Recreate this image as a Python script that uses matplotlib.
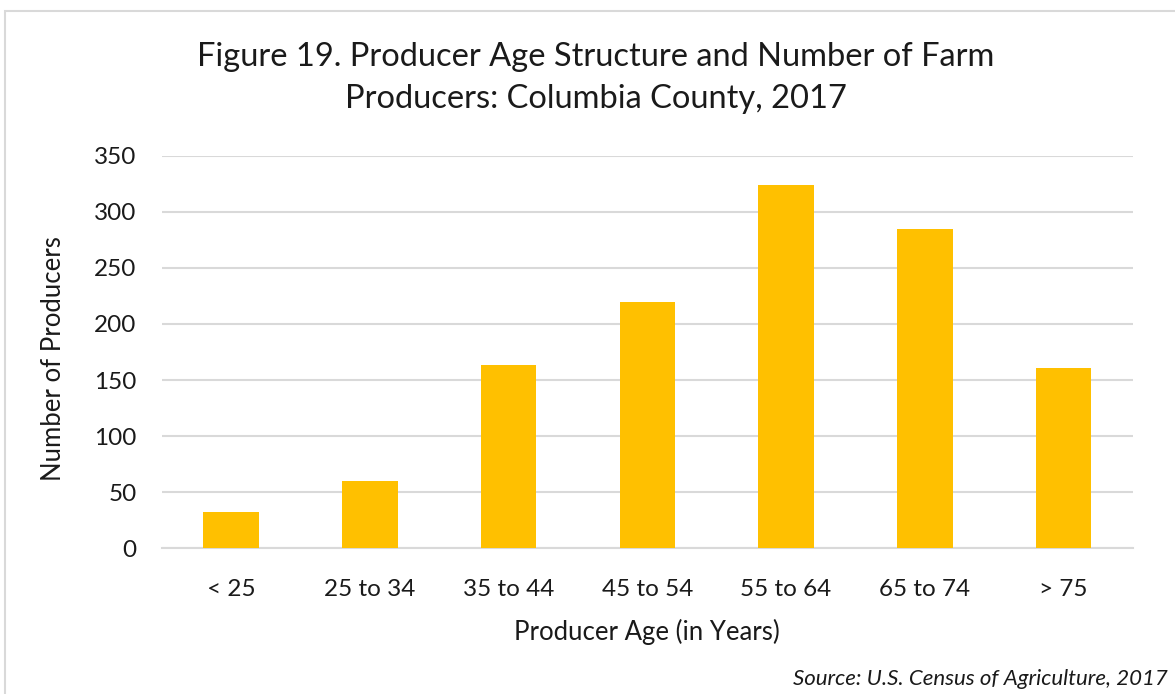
import matplotlib
matplotlib.use("Agg")
import matplotlib.pyplot as plt
from matplotlib.patches import Rectangle

categories = ["< 25", "25 to 34", "35 to 44", "45 to 54", "55 to 64", "65 to 74", "> 75"]
producers = [32, 60, 163, 220, 324, 285, 161]
yticks = [0, 50, 100, 150, 200, 250, 300, 350]

plt.rcParams['font.family'] = ['Lato', 'DejaVu Sans']
W, H = 1175, 694
fig = plt.figure(figsize=(W / 100, H / 100), dpi=100)
fig.patch.set_facecolor("white")

# axes in pixel coords
left, right, top, bottom = 161.6, 1133.0, 155.7, 548.3
ax = fig.add_axes([left / W, 1 - bottom / H, (right - left) / W, (bottom - top) / H])

x = list(range(len(categories)))
ax.bar(x, producers, width=0.40, color="#FFC000", zorder=3)
ax.set_xlim(-0.5, len(categories) - 0.5)
ax.set_ylim(0, 350)
ax.set_yticks(yticks)
ax.set_xticks(x)
ax.set_xticklabels(categories)
ax.grid(axis="y", color="#D9D9D9", linewidth=1.5, zorder=0)
for s in ["top", "right", "left"]:
    ax.spines[s].set_visible(False)
ax.spines["bottom"].set_color("#D9D9D9")
ax.spines["bottom"].set_linewidth(1.5)
ax.tick_params(axis="both", length=0, labelsize=17.5, colors="#1a1a1a")
ax.tick_params(axis="x", pad=22)
ax.tick_params(axis="y", pad=18)

ax.set_xlabel("Producer Age (in Years)", fontsize=18.5, color="#1a1a1a", labelpad=14)
ax.set_ylabel("Number of Producers", fontsize=18.5, color="#1a1a1a")
ax.yaxis.set_label_coords((66 - left) / (right - left), (bottom - 359) / (bottom - top))

fig.text(596 / W, 1 - 78 / H, "Figure 19. Producer Age Structure and Number of Farm\nProducers: Columbia County, 2017",
         ha="center", va="center", fontsize=23.5, color="#1a1a1a", linespacing=1.5)
fig.text(1168 / W, 1 - 679 / H, "Source: U.S. Census of Agriculture, 2017",
         ha="right", va="center", fontsize=16, style="italic", color="#1a1a1a")

fig.patches.append(Rectangle((5 / W, -0.05), 1.1, 1 - 11 / H + 0.05, transform=fig.transFigure,
                             fill=False, edgecolor="#D9D9D9", linewidth=1.5, clip_on=False))

fig.savefig("out.png", dpi=100, facecolor="white")
